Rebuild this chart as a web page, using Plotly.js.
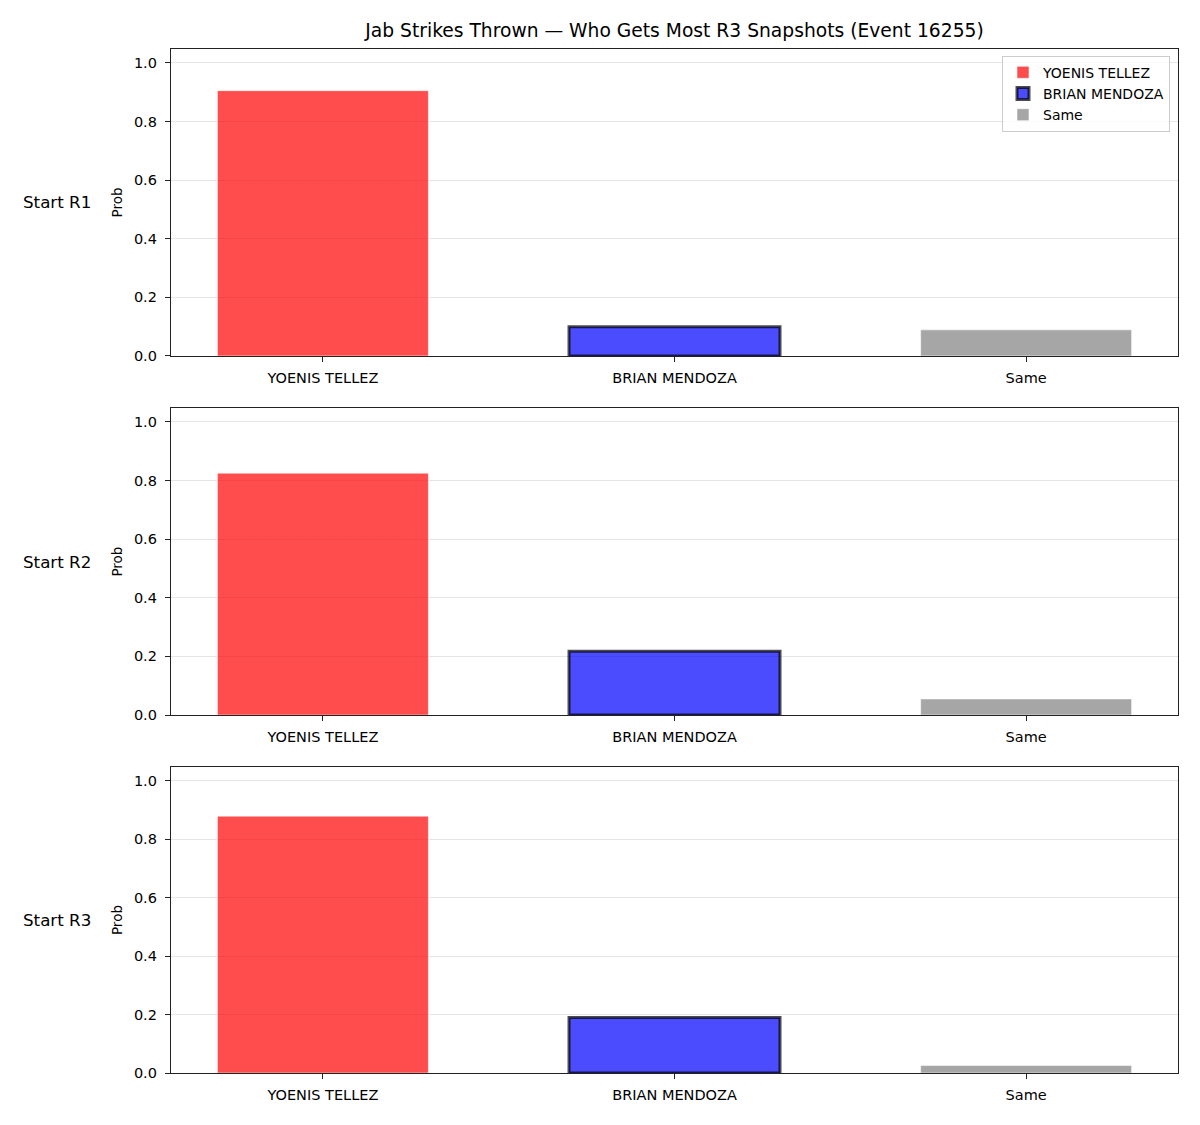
<!DOCTYPE html>
<html>
<head>
<meta charset="utf-8">
<script src="https://cdn.plot.ly/plotly-3.0.1.min.js"></script>
<style>
  html, body { margin: 0; padding: 0; background: #ffffff; }
  #chart { width: 1200px; height: 1125px; }
</style>
</head>
<body>
<div id="chart"></div>
<script>
// Outcome categories shown on every panel
const categories = ["YOENIS TELLEZ", "BRIAN MENDOZA", "Same"];

// Row labels, one per starting round
const rowLabels = ["Start R1", "Start R2", "Start R3"];

// Probability per outcome for each starting round
const probR1 = [0.905, 0.100, 0.089];
const probR2 = [0.825, 0.218, 0.055];
const probR3 = [0.879, 0.190, 0.026];
const panelValues = [probR1, probR2, probR3];

const yTickVals = [0, 0.2, 0.4, 0.6, 0.8, 1.0];
const yTickText = ["0.0", "0.2", "0.4", "0.6", "0.8", "1.0"];

const titleText = "Jab Strikes Thrown \u2014 Who Gets Most R3 Snapshots (Event 16255)";

const FONT = "DejaVu Sans, Verdana, sans-serif";
const TICK_SIZE = 14.5;
// Semi-transparent fills so the grid shows through the bars
const fillColors = ["rgba(255,0,0,0.7)", "rgba(0,0,255,0.7)", "rgba(128,128,128,0.7)"];
const lineColors = ["rgba(255,255,255,0.7)", "rgba(0,0,0,0.7)", "rgba(255,255,255,0.7)"];
const lineWidths = [0.8, 3, 0.8];

// Vertical extent of each panel in paper coordinates (top to bottom)
const domains = [
  [0.6836, 0.9564],
  [0.3644, 0.6373],
  [0.0462, 0.3182]
];

const traces = [];
panelValues.forEach((vals, p) => {
  const axSuffix = p === 0 ? "" : String(p + 1);
  categories.forEach((cat, i) => {
    traces.push({
      type: "bar",
      x: [cat],
      y: [vals[i]],
      name: cat,
      legendgroup: cat,
      showlegend: p === 0,
      width: 0.6,
      xaxis: "x" + axSuffix,
      yaxis: "y" + axSuffix,
      marker: {
        color: fillColors[i],
        line: { color: lineColors[i], width: lineWidths[i] }
      },
      hovertemplate: cat + ": %{y:.3f}<extra>" + rowLabels[p] + "</extra>"
    });
  });
});

const layout = {
  width: 1200,
  height: 1125,
  margin: { l: 0, r: 0, t: 0, b: 0 },
  paper_bgcolor: "#ffffff",
  plot_bgcolor: "#ffffff",
  font: { family: FONT, size: TICK_SIZE, color: "#000000" },
  barmode: "overlay",
  showlegend: true,
  title: {
    text: titleText,
    font: { family: FONT, size: 18.7, color: "#000000" },
    x: 0.5621, xanchor: "center",
    y: 1 - 30 / 1125, yanchor: "middle"
  },
  legend: {
    x: 0.975, xanchor: "right",
    y: 0.9505, yanchor: "top",
    bgcolor: "rgba(255,255,255,0.8)",
    bordercolor: "#cccccc",
    borderwidth: 1,
    font: { family: FONT, size: 14, color: "#000000" },
    tracegroupgap: 0,
    itemwidth: 30
  },
  annotations: [],
  bargap: 0.4
};

domains.forEach((dom, p) => {
  const axSuffix = p === 0 ? "" : String(p + 1);
  layout["xaxis" + axSuffix] = {
    domain: [0.1425, 0.9817],
    anchor: "y" + axSuffix,
    type: "category",
    categoryorder: "array",
    categoryarray: categories,
    range: [-0.432, 2.432],
    showline: true, mirror: true, linecolor: "#222222", linewidth: 1.3,
    ticks: "outside", ticklen: 5, tickwidth: 1.1, tickcolor: "#222222",
    ticklabelstandoff: 3,
    showgrid: false, zeroline: false,
    tickfont: { family: FONT, size: TICK_SIZE, color: "#000000" }
  };
  layout["yaxis" + axSuffix] = {
    domain: dom,
    anchor: "x" + axSuffix,
    range: [0, 1.047],
    tickvals: yTickVals,
    ticktext: yTickText,
    showline: true, mirror: true, linecolor: "#222222", linewidth: 1.3,
    ticks: "outside", ticklen: 5, tickwidth: 1.1, tickcolor: "#222222",
    ticklabelstandoff: 5,
    showgrid: true, gridcolor: "#e5e5e5", gridwidth: 1,
    zeroline: false,
    tickfont: { family: FONT, size: TICK_SIZE, color: "#000000" },
    title: {
      text: "Prob",
      font: { family: FONT, size: 13.5, color: "#000000" },
      standoff: 8
    }
  };
  layout.annotations.push({
    text: rowLabels[p],
    xref: "paper", yref: "paper",
    x: 57 / 1200, xanchor: "center",
    y: (dom[0] + dom[1]) / 2, yanchor: "middle",
    showarrow: false,
    font: { family: FONT, size: 16.7, color: "#000000" }
  });
});

Plotly.newPlot("chart", traces, layout, { displayModeBar: false, responsive: false });
</script>
</body>
</html>
